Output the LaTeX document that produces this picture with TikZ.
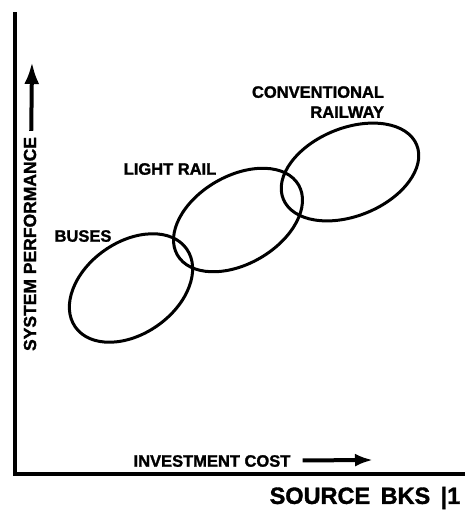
\documentclass[tikz,border=0pt]{standalone}
\usepackage{fontspec}
\setmainfont{Liberation Sans}
\newfontfamily\heavyfont[BoldFeatures = {FakeBold = 1.5}]{Liberation Sans}
\usetikzlibrary{arrows.meta}

\begin{document}
\begin{tikzpicture}[x = 1pt, y = -1pt,
	lettering/.style = {font = \fontsize{16.5}{20}\selectfont\heavyfont\bfseries, inner sep = 2pt},
	pointer/.style = {-{Latex[length = 18pt, width = 13pt]}, line width = 4pt},
	ring/.style = {line width = 3pt}]

	\useasboundingbox (0, 0) rectangle (465, 517);

	% Axes
	
	\draw [line width = 4.5pt] (15, 12) -- (15, 474) -- (465, 474);
	
	% Axis labels and arrows
	
	\node [lettering, font = \fontsize{17.5}{20}\selectfont\heavyfont\bfseries, rotate = 90] (performance) at (30, 244) {SYSTEM PERFORMANCE};
	\coordinate (performance end) at (32, 62);
	\draw [pointer, -{Latex[length = 22pt, width = 15pt]}, shorten < = 4pt] (performance) -- (performance end);
	
	\node [lettering] (cost) at (212, 461) {INVESTMENT COST};
	\coordinate (cost end) at (373, 460);
	\draw [pointer, shorten < = 10pt] (cost) -- (cost end);
	
	% Modes
	
	\draw [ring] (131, 288) ellipse [x radius = 68pt, y radius = 46pt, rotate = 35];
	\draw [ring] (238, 220) ellipse [x radius = 70pt, y radius = 44pt, rotate = 30];
	\draw [ring] (350, 172) ellipse [x radius = 72pt, y radius = 44pt, rotate = 22];
	
	\node [lettering] (buses) at (83, 236) {BUSES};
	\node [lettering] (light rail) at (170, 169) {LIGHT RAIL};
	\node [lettering, align = right] (railway) at (318, 102) {CONVENTIONAL\\RAILWAY};
	
	% Source
	
	\node [font = \fontsize{23.5}{26}\selectfont\heavyfont\bfseries] (source) at (365, 498) {SOURCE \,BKS \,|1};
	
\end{tikzpicture}
\end{document}
